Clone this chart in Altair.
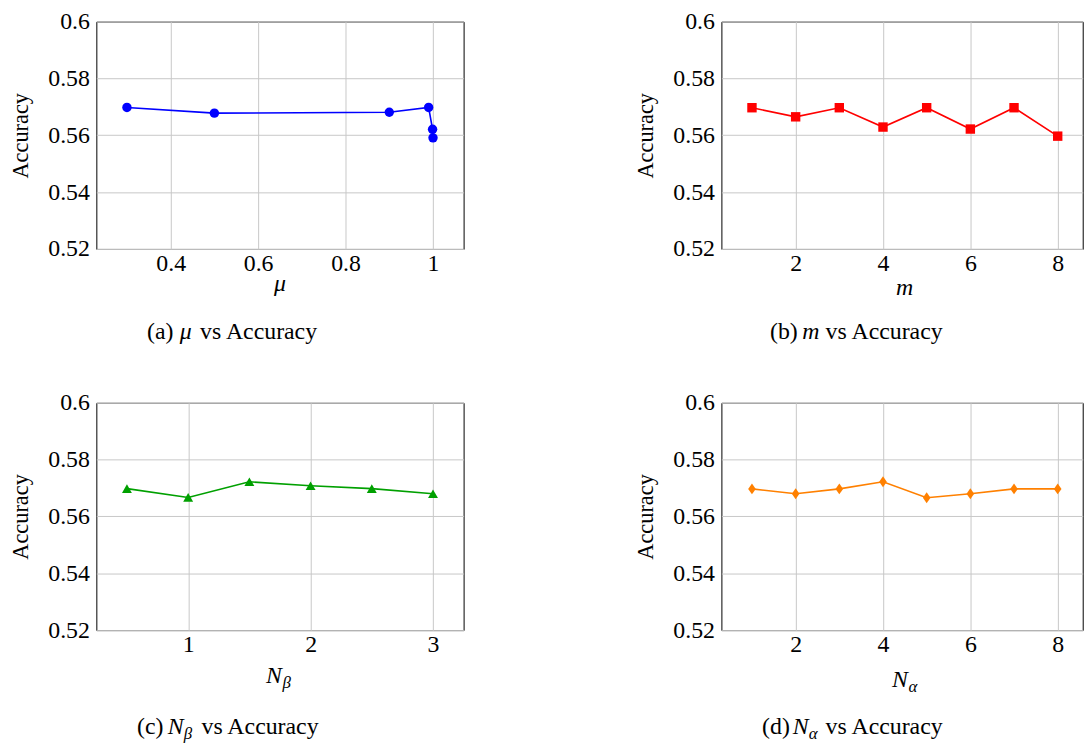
import altair as alt
import pandas as pd

# ---- data ----
mu_vals = [0.3, 0.5, 0.9, 0.99, 0.999, 1.0]
mu_acc = [0.5698, 0.5678, 0.5681, 0.5698, 0.5621, 0.5591]

m_vals = [1, 2, 3, 4, 5, 6, 7, 8]
m_acc = [0.5697, 0.5665, 0.5697, 0.5629, 0.5697, 0.5622, 0.5697, 0.5597]

nb_vals = [0.5, 1.0, 1.5, 2.0, 2.5, 3.0]
nb_acc = [0.5698, 0.5667, 0.5722, 0.5708, 0.5698, 0.5680]

na_vals = [1, 2, 3, 4, 5, 6, 7, 8]
na_acc = [0.5697, 0.5680, 0.5697, 0.5722, 0.5666, 0.5680, 0.5697, 0.5697]

y_ticks = [0.52, 0.54, 0.56, 0.58, 0.6]
mu_ticks = [0.4, 0.6, 0.8, 1.0]
m_ticks = [2, 4, 6, 8]
nb_ticks = [1, 2, 3]
na_ticks = [2, 4, 6, 8]

y_title = "Accuracy"
cap_a = ["(a)", "\u03bc", "vs Accuracy"]
cap_b = ["(b)", "m", "vs Accuracy"]
cap_c = ["(c)", "N", "\u03b2", "vs Accuracy"]
cap_d = ["(d)", "N", "\u03b1", "vs Accuracy"]

FONT = "Liberation Serif"
W_L = 370
W_R = 364
H = 229


def txt(s, x, y, size=24, italic=False, align="left"):
    kw = dict(font=FONT, fontSize=size, align=align, baseline="alphabetic",
              color="black")
    if italic:
        kw["fontStyle"] = "italic"
    return alt.Chart(pd.DataFrame({"t": [s]})).mark_text(**kw).encode(
        x=alt.value(x), y=alt.value(y), text="t:N")


def panel(xs, ys, color, shape, size, xdomain, xticks, xfmt, width, extras):
    df = pd.DataFrame({"x": xs, "y": ys})
    xenc = alt.X("x:Q",
                 scale=alt.Scale(domain=xdomain, nice=False, zero=False),
                 axis=alt.Axis(values=xticks, format=xfmt, title=None,
                               labelFont=FONT, labelFontSize=24,
                               labelColor="black", labelPadding=3,
                               ticks=False, tickSize=0, domain=False,
                               grid=True, gridColor="#c8c8c8", gridWidth=1))
    yenc = alt.Y("y:Q",
                 scale=alt.Scale(domain=[0.52, 0.6], nice=False, zero=False),
                 axis=alt.Axis(values=y_ticks, format=".2~f", title=y_title,
                               labelFont=FONT, labelFontSize=24,
                               labelColor="black", labelPadding=7,
                               minExtent=50, maxExtent=50,
                               titleFont=FONT, titleFontSize=22.5,
                               titleFontWeight="normal", titleColor="black",
                               titlePadding=14.3,
                               ticks=False, tickSize=0, domain=False,
                               grid=True, gridColor="#c8c8c8", gridWidth=1))
    base = alt.Chart(df)
    line = base.mark_line(color=color, strokeWidth=1.6).encode(x=xenc, y=yenc)
    pts = base.mark_point(shape=shape, filled=True, size=size, color=color,
                          opacity=1).encode(x=xenc, y=yenc)
    return alt.layer(line, pts, *extras).properties(width=width, height=H)


diamond = "M0,-1L0.7,0L0,1L-0.7,0Z"

pa = panel(mu_vals, mu_acc, "#0000ff", "circle", 90, [0.23, 1.07], mu_ticks,
           ".1~f", W_L,
           [txt("\u03bc", 185, 271, italic=True, align="center"),
            txt(cap_a[0], 51, 319.5), txt(cap_a[1], 84, 319.5, italic=True),
            txt(cap_a[2], 104.5, 319.5)])

pb = panel(m_vals, m_acc, "#ff0000", "square", 90, [0.3, 0.3 + W_R / 44.0],
           m_ticks, "d", W_R,
           [txt("m", 184.5, 275.5, italic=True, align="center"),
            txt(cap_b[0], 49, 319.5), txt(cap_b[1], 81.5, 319.5, italic=True),
            txt(cap_b[2], 105, 319.5)])

pc = panel(nb_vals, nb_acc, "#00a000", "triangle-up", 100, [0.25, 3.25],
           nb_ticks, "d", W_L,
           [txt("N", 187, 282.5, italic=True, align="right"),
            txt(cap_c[2], 187.5, 287.5, size=17, italic=True),
            txt(cap_c[0], 41, 333.5), txt(cap_c[1], 72, 333.5, italic=True),
            txt(cap_c[2], 88, 338.5, size=17, italic=True),
            txt(cap_c[3], 106, 333.5)])

pd_ = panel(na_vals, na_acc, "#ff8000", diamond, 120, [0.3, 0.3 + W_R / 44.0],
            na_ticks, "d", W_R,
            [txt("N", 188, 286.5, italic=True, align="right"),
             txt(cap_d[2], 188.5, 291.5, size=17, italic=True),
             txt(cap_d[0], 41, 333.5), txt(cap_d[1], 72, 333.5, italic=True),
             txt(cap_d[2], 88, 338.5, size=17, italic=True),
             txt(cap_d[3], 105, 333.5)])

chart = alt.concat(pa, pb, pc, pd_, columns=2,
                   spacing={"row": 155, "column": 259.7},
                   bounds="flush").properties(
    padding={"left": 1, "top": -2, "right": 0, "bottom": 0}
).configure_view(
    stroke="black", strokeWidth=1
)

chart.save("out.html", embed_options={"renderer": "svg", "actions": False})
